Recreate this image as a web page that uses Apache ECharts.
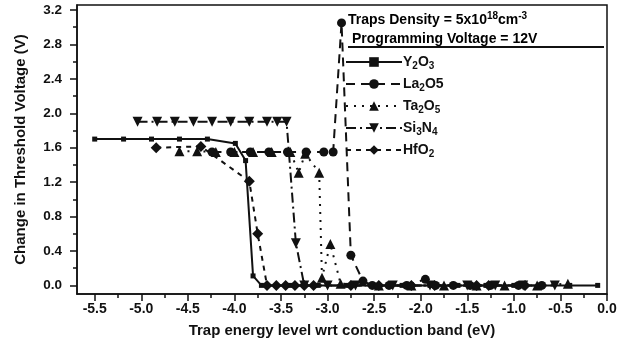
<!DOCTYPE html>
<html>
<head>
<meta charset="utf-8">
<script src="https://cdn.jsdelivr.net/npm/echarts@6/dist/echarts.min.js"></script>
<style>
  html, body { margin: 0; padding: 0; background: #fff; }
  #chart { width: 630px; height: 346px; }
</style>
</head>
<body>
<div id="chart"></div>
<script>
// tick positions
const xMajor = [-5.5, -5.0, -4.5, -4.0, -3.5, -3.0, -2.5, -2.0, -1.5, -1.0, -0.5, 0.0];
const xMinor = [-5.25, -4.75, -4.25, -3.75, -3.25, -2.75, -2.25, -1.75, -1.25, -0.75, -0.25];
const yMajor = [0.0, 0.4, 0.8, 1.2, 1.6, 2.0, 2.4, 2.8, 3.2];
const yMinor = [0.2, 0.6, 1.0, 1.4, 1.8, 2.2, 2.6, 3.0];

// Y2O3
const y2o3X = [-5.5, -5.19, -4.89, -4.59, -4.29, -3.99, -3.88, -3.80, -3.71, -3.4, -3.1, -2.8, -2.5, -2.2, -1.9, -1.6, -1.3, -1.0, -0.7, -0.4, -0.1];
const y2o3Y = [1.70, 1.70, 1.70, 1.70, 1.70, 1.65, 1.45, 0.11, 0.0, 0, 0, 0, 0, 0, 0, 0, 0, 0, 0, 0, 0];
// La2O5
const la2o5X = [-4.24, -4.04, -3.83, -3.63, -3.43, -3.23, -3.04, -2.94, -2.85, -2.75, -2.62, -2.52, -2.34, -2.15, -1.95, -1.84, -1.65, -1.47, -1.25, -0.95, -0.7];
const la2o5Y = [1.55, 1.55, 1.55, 1.55, 1.55, 1.55, 1.55, 1.55, 3.05, 0.35, 0.05, 0, 0, 0, 0.07, 0, 0, 0, 0, 0, 0];
// Ta2O5
const ta2o5X = [-4.59, -4.40, -4.2, -4.0, -3.8, -3.6, -3.4, -3.31, -3.24, -3.09, -3.06, -2.97, -2.86, -2.45, -2.1, -1.75, -1.4, -1.1, -0.75, -0.42];
const ta2o5Y = [1.56, 1.56, 1.55, 1.55, 1.55, 1.55, 1.55, 1.31, 1.53, 1.31, 0.09, 0.48, 0.02, 0, 0, 0, 0, 0, 0, 0.02];
// Si3N4
const si3n4X = [-5.04, -4.83, -4.64, -4.44, -4.24, -4.04, -3.84, -3.65, -3.54, -3.44, -3.34, -3.25, -3.0, -2.7, -2.3, -1.9, -1.5, -1.2, -0.9, -0.56];
const si3n4Y = [1.9, 1.9, 1.9, 1.9, 1.9, 1.9, 1.9, 1.9, 1.9, 1.9, 0.49, 0.0, 0, 0, 0, 0, 0, 0, 0, 0];
// HfO2
const hfo2X = [-4.84, -4.36, -3.84, -3.75, -3.65, -3.55, -3.45, -3.35, -3.25, -3.15, -2.75, -2.45, -2.1, -1.85, -1.4, -1.27, -0.88];
const hfo2Y = [1.60, 1.615, 1.21, 0.60, 0.0, 0, 0, 0, 0, 0, 0, 0, 0, 0, 0, 0, 0];

const pairs = (xs, ys) => xs.map((x, i) => [x, ys[i]]);

const FONT = '"Liberation Sans", Arial, sans-serif';
const downTri = 'path://M0,0 L10,0 L5,9 Z';

const rich = {
  b: { fontSize: 14, fontWeight: 'bold', fontFamily: FONT, color: '#111', lineHeight: 18, verticalAlign: 'middle' },
  s: { fontSize: 10, fontWeight: 'bold', fontFamily: FONT, color: '#111', lineHeight: 9, verticalAlign: 'bottom' },
  p: { fontSize: 10, fontWeight: 'bold', fontFamily: FONT, color: '#111', lineHeight: 9, verticalAlign: 'top' }
};
const legendText = {
  'Y2O3': '{b|Y}{s|2}{b|O}{s|3}',
  'La2O5': '{b|La}{s|2}{b|O5}',
  'Ta2O5': '{b|Ta}{s|2}{b|O}{s|5}',
  'Si3N4': '{b|Si}{s|3}{b|N}{s|4}',
  'HfO2': '{b|HfO}{s|2}'
};

function mk(name, data, symbol, size, dash) {
  return {
    name: name,
    type: 'line',
    xAxisIndex: 0,
    yAxisIndex: 0,
    data: data,
    symbol: symbol,
    symbolSize: size,
    showSymbol: true,
    itemStyle: { color: '#111' },
    lineStyle: { color: '#111', width: 2, type: dash },
    animation: false
  };
}

const chart = echarts.init(document.getElementById('chart'));
const axisLine = { show: true, onZero: false, lineStyle: { color: '#111', width: 1.5 } };
chart.setOption({
  backgroundColor: '#fff',
  animation: false,
  grid: { left: 77, right: 23, top: 5, bottom: 52, show: true, borderColor: '#111', borderWidth: 1.5 },
  xAxis: [
    {
      type: 'value', min: -5.69, max: 0, position: 'bottom',
      axisLine: axisLine,
      splitLine: { show: false },
      axisTick: { show: true, customValues: xMajor, length: 7, lineStyle: { color: '#111', width: 1.5 } },
      axisLabel: { customValues: xMajor, formatter: v => v.toFixed(1), color: '#111', fontWeight: 'bold', fontSize: 14, fontFamily: FONT, margin: 8 },
      name: 'Trap energy level wrt conduction band (eV)',
      nameLocation: 'middle', nameGap: 29,
      nameTextStyle: { color: '#111', fontWeight: 'bold', fontSize: 15, fontFamily: FONT }
    },
    {
      type: 'value', min: -5.69, max: 0, position: 'bottom',
      axisLine: { show: false, onZero: false },
      splitLine: { show: false },
      axisTick: { show: true, customValues: xMinor, length: 4, lineStyle: { color: '#111', width: 1.5 } },
      axisLabel: { show: false }
    }
  ],
  yAxis: [
    {
      type: 'value', min: -0.1, max: 3.258, position: 'left',
      axisLine: axisLine,
      splitLine: { show: false },
      axisTick: { show: true, customValues: yMajor, length: 7, lineStyle: { color: '#111', width: 1.5 } },
      axisLabel: { customValues: yMajor, formatter: v => v.toFixed(1), color: '#111', fontWeight: 'bold', fontSize: 13.5, fontFamily: FONT, margin: 15 },
      name: 'Change in Threshold Voltage (V)',
      nameLocation: 'middle', nameGap: 49, nameRotate: 90,
      nameTextStyle: { color: '#111', fontWeight: 'bold', fontSize: 15, fontFamily: FONT }
    },
    {
      type: 'value', min: -0.1, max: 3.258, position: 'left',
      axisLine: { show: false, onZero: false },
      splitLine: { show: false },
      axisTick: { show: true, customValues: yMinor, length: 4, lineStyle: { color: '#111', width: 1.5 } },
      axisLabel: { show: false }
    }
  ],
  legend: {
    orient: 'vertical',
    left: 340, top: 50,
    itemWidth: 56, itemHeight: 12, itemGap: 6,
    data: ['Y2O3', 'La2O5', 'Ta2O5', 'Si3N4', 'HfO2'],
    formatter: n => legendText[n],
    textStyle: { rich: rich, padding: [0, 0, 0, -4] },
    selectedMode: false
  },
  graphic: [
    {
      type: 'text', left: 348, top: 11,
      style: { text: '{b|Traps Density = 5x10}{p|18}{b|cm}{p|-3}', rich: rich }
    },
    {
      type: 'text', left: 352, top: 32,
      style: { text: '{b|Programming Voltage = 12V}', rich: rich }
    },
    {
      type: 'line',
      shape: { x1: 348, y1: 47, x2: 604, y2: 47 },
      style: { stroke: '#111', lineWidth: 2 }
    }
  ],
  series: [
    mk('Y2O3', pairs(y2o3X, y2o3Y), 'rect', 5, 'solid'),
    mk('La2O5', pairs(la2o5X, la2o5Y), 'circle', 9, [9, 6]),
    mk('Ta2O5', pairs(ta2o5X, ta2o5Y), 'triangle', 10, [2, 6]),
    mk('Si3N4', pairs(si3n4X, si3n4Y), downTri, 10, [10, 4, 2, 4]),
    mk('HfO2', pairs(hfo2X, hfo2Y), 'diamond', 11, [5, 5])
  ]
});
</script>
</body>
</html>
